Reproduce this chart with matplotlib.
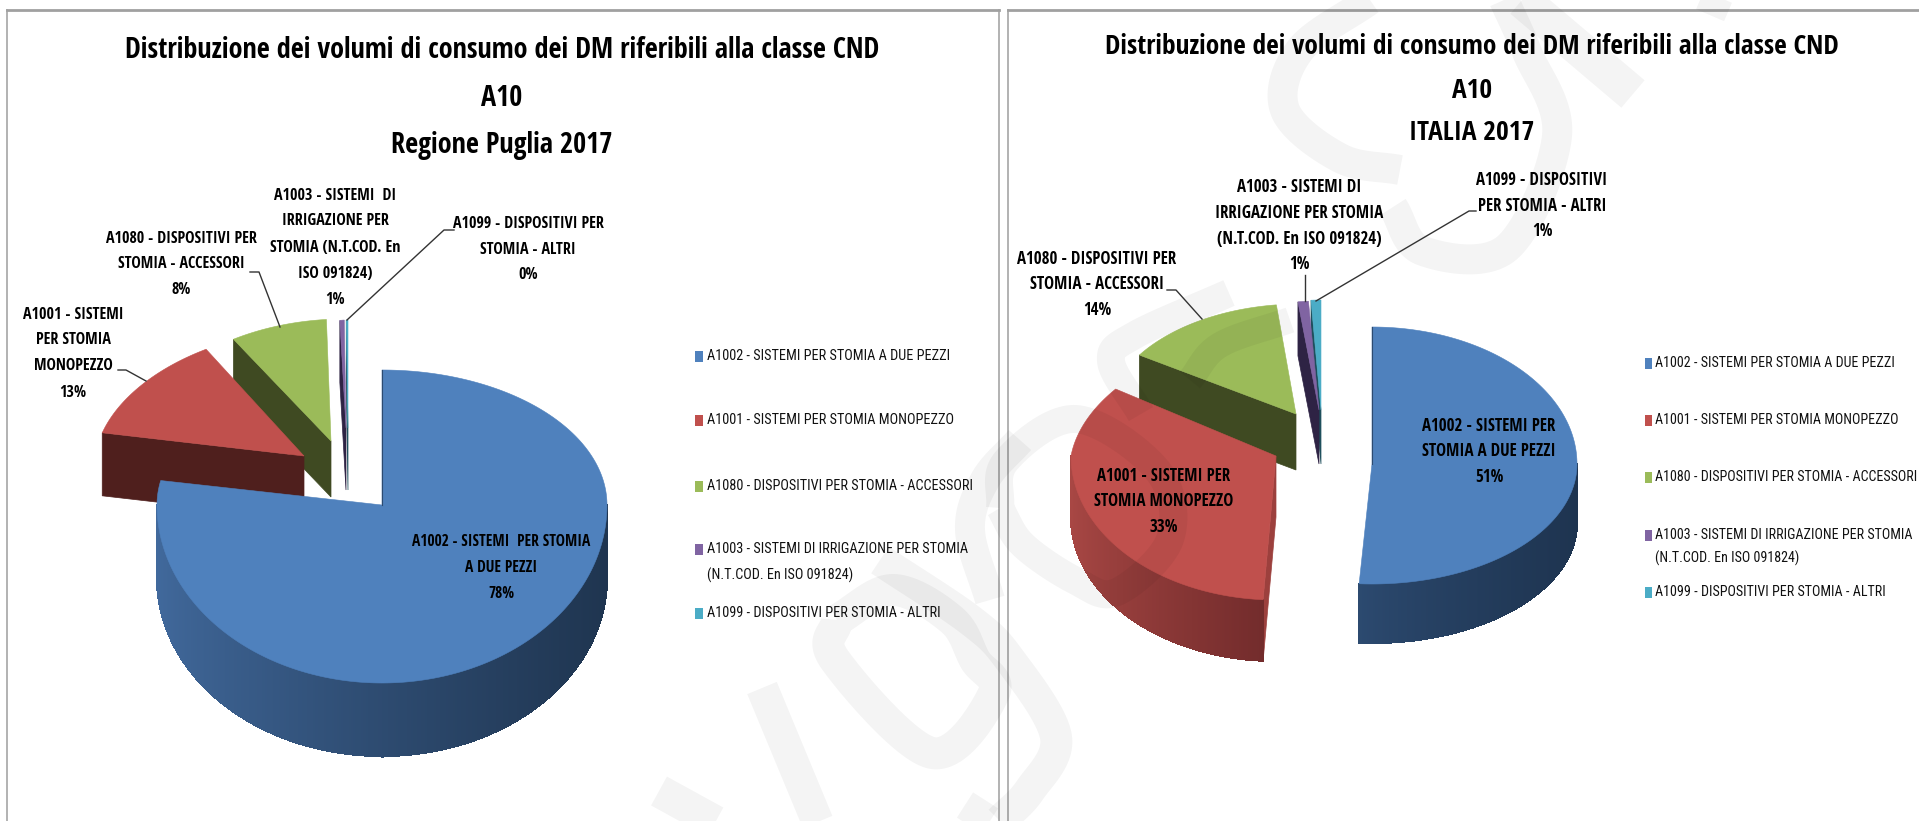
import numpy as np
import matplotlib
matplotlib.use('Agg')
import matplotlib.pyplot as plt
from matplotlib.patches import Polygon, Rectangle
from matplotlib.collections import PolyCollection
from matplotlib.colors import to_rgb

# values (percent)
categories = ['A1002', 'A1001', 'A1080', 'A1003', 'A1099']
values_puglia = [77.9, 12.8, 7.9, 1.0, 0.4]
values_italia = [51.0, 33.0, 14.0, 1.0, 1.0]

title_lines = ['Distribuzione dei volumi di consumo dei DM riferibili alla classe CND', 'A10']
title_puglia = 'Regione Puglia 2017'
title_italia = 'ITALIA 2017'

legend_lines = [
    ['A1002 - SISTEMI PER STOMIA A DUE PEZZI'],
    ['A1001 - SISTEMI PER STOMIA MONOPEZZO'],
    ['A1080 - DISPOSITIVI PER STOMIA - ACCESSORI'],
    ['A1003 - SISTEMI DI IRRIGAZIONE PER STOMIA', '(N.T.COD. En ISO 091824)'],
    ['A1099 - DISPOSITIVI PER STOMIA - ALTRI'],
]

labels_puglia = [
    ['A1002 - SISTEMI  PER STOMIA', 'A DUE PEZZI'],
    ['A1001 - SISTEMI', 'PER STOMIA', 'MONOPEZZO'],
    ['A1080 - DISPOSITIVI PER', 'STOMIA - ACCESSORI'],
    ['A1003 - SISTEMI  DI', 'IRRIGAZIONE PER', 'STOMIA (N.T.COD. En', 'ISO 091824)'],
    ['A1099 - DISPOSITIVI PER', 'STOMIA - ALTRI'],
]
labels_italia = [
    ['A1002 - SISTEMI PER', 'STOMIA A DUE PEZZI'],
    ['A1001 - SISTEMI PER', 'STOMIA MONOPEZZO'],
    ['A1080 - DISPOSITIVI PER', 'STOMIA - ACCESSORI'],
    ['A1003 - SISTEMI DI', 'IRRIGAZIONE PER STOMIA', '(N.T.COD. En ISO 091824)'],
    ['A1099 - DISPOSITIVI', 'PER STOMIA - ALTRI'],
]

top_colors = ['#4f81bd', '#c0504d', '#9bbb59', '#8064a2', '#4bacc6']

# layout per slice: apex x, apex y, rx, ry up, ry down, depth, skew
geom_puglia = [
    (382, 505, 225, 135, 178, 73, 0),
    (304, 456, 209, 128, 128, 63, 0.163),
    (331, 441, 196, 122, 122, 56, 0.104),
    (346, 428, 70, 108, 108, 62, 0),
    (348, 428, 70, 108, 108, 62, 0),
]
geom_italia = [
    (1372, 464, 205, 137, 120, 59, 0),
    (1276, 456, 205, 125, 144, 61, 0.19),
    (1296, 414, 188, 110, 110, 56, 0.036),
    (1319, 410, 168, 109, 109, 54, 0),
    (1321, 410, 159, 110, 110, 54, 0),
]
face_puglia = ['#1f3550', '#4f1f1d', '#3f4a22', '#2e2344', '#1e4f5c']
face_italia = ['#1f3550', '#9c403d', '#3f4a22', '#2e2344', '#1e4f5c']
grad_puglia = [('#41699c', '#1f3550')] * 5
grad_italia = [('#2c4a70', '#1e3450'), ('#a84744', '#732c2c')] + [('#444444', '#222222')] * 3


def project(t, g):
    x0, y0, rx, ry_up, ry_down, depth, skew = g
    t = np.asarray(t, dtype=float)
    c = np.cos(np.radians(t))
    s = np.sin(np.radians(t))
    ys = np.where(c > 0, -ry_up * c, -ry_down * c)
    # slices in the back lean a bit, like the perspective of the original
    xs = rx * s + np.where(ys < 0, skew * ys, 0) * -1.0
    return x0 + xs, y0 + ys


def draw_slice(ax, a, b, g, color, face, grad):
    x0, y0, rx, ry_up, ry_down, depth, skew = g
    ts = np.linspace(a, b, max(int(b - a) * 2, 6))
    xs, ys = project(ts, g)

    # side wall facing the viewer
    if np.sin(np.radians(a)) < 0:
        sx, sy = project(a, g)
        ax.add_patch(Polygon([(x0, y0), (sx, sy), (sx, sy + depth), (x0, y0 + depth)],
                             closed=True, facecolor=face, edgecolor=face, lw=0.5))

    # outer wall with the left to right shading
    lo, hi = max(a, 90), min(b, 270)
    if lo < hi:
        tw = np.linspace(lo, hi, int(hi - lo) * 2 + 2)
        wx, wy = project(tw, g)
        x_min, x_max = wx.min(), wx.max()
        c1, c2 = np.array(to_rgb(grad[0])), np.array(to_rgb(grad[1]))
        polys, cols = [], []
        for i in range(len(tw) - 1):
            polys.append([(wx[i], wy[i]), (wx[i + 1], wy[i + 1]),
                          (wx[i + 1], wy[i + 1] + depth), (wx[i], wy[i] + depth)])
            f = ((wx[i] - x_min) / max(x_max - x_min, 1)) ** 0.8
            cols.append(c1 * (1 - f) + c2 * f)
        ax.add_collection(PolyCollection(polys, facecolors=cols, edgecolors=cols,
                                         linewidths=0.8, antialiaseds=False))

    pts = [(x0, y0)] + list(zip(xs, ys))
    ax.add_patch(Polygon(pts, closed=True, facecolor=color, edgecolor=color, lw=0.4))


def draw_pie(ax, values, geom, faces, grads):
    total = sum(values)
    ends = np.cumsum(values) / total * 360
    starts = np.concatenate([[0], ends[:-1]])
    # back slices first, the big one goes on top
    for i in [4, 3, 2, 1, 0]:
        draw_slice(ax, starts[i], ends[i], geom[i], top_colors[i], faces[i], grads[i])
    # thin dark edge of the big slice
    tx, ty = project(0, geom[0])
    ax.plot([tx, geom[0][0]], [ty, geom[0][1]], color='#1f3550', lw=0.8, alpha=0.7, zorder=2)


def smooth(points, n=24):
    # catmull-rom through a few points, only for the watermark strokes
    p = np.array(points, dtype=float)
    if len(p) < 3:
        return p
    p = np.vstack([2 * p[0] - p[1], p, 2 * p[-1] - p[-2]])
    out = []
    for i in range(1, len(p) - 2):
        for u in np.linspace(0, 1, n, endpoint=False):
            out.append(0.5 * (2 * p[i] + (p[i + 1] - p[i - 1]) * u
                              + (2 * p[i - 1] - 5 * p[i] + 4 * p[i + 1] - p[i + 2]) * u ** 2
                              + (3 * p[i] - p[i - 1] - 3 * p[i + 1] + p[i + 2]) * u ** 3))
    out.append(p[-2])
    return np.array(out)


bold_font = ['Open Sans Condensed', 'Roboto Condensed', 'DejaVu Sans']
plain_font = ['Roboto Condensed', 'DejaVu Sans']

fig = plt.figure(figsize=(19.19, 8.21), dpi=100)
ax = fig.add_axes([0, 0, 1, 1])
ax.set_xlim(0, 1919)
ax.set_ylim(821, 0)
ax.axis('off')

# panel borders
for xs, ys in [([7, 7], [10, 821]), ([999, 999], [10, 821]), ([1008, 1008], [10, 821])]:
    ax.plot(xs, ys, color='#a6a6a6', lw=1.2, zorder=1)
ax.plot([7, 999], [10, 10], color='#a0a0a0', lw=2, zorder=1)
ax.plot([1008, 1919], [10, 10], color='#a0a0a0', lw=2, zorder=1)

draw_pie(ax, values_puglia, geom_puglia, face_puglia, grad_puglia)
draw_pie(ax, values_italia, geom_italia, face_italia, grad_italia)

# watermark, pale strokes crossing the page
strokes = [
    ([(1522, 0), (1633, 94)], 36),
    ([(1700, 0), (1728, 12)], 20),
    ([(1370, 0), (1300, 50), (1285, 110), (1340, 158), (1400, 170)], 30),
    ([(1393, 207), (1423, 251), (1507, 248), (1557, 136), (1527, 52), (1504, 0)], 30),
    ([(1000, 508), (1006, 461), (1076, 419), (1158, 471), (1170, 539), (1117, 592), (1076, 581), (1023, 545), (1000, 508)], 28),
    ([(1229, 293), (1135, 335), (1111, 361), (1141, 414)], 28),
    ([(1290, 320), (1220, 345), (1190, 380)], 26),
    ([(880, 560), (970, 620), (1010, 660), (1056, 737), (1030, 790), (1000, 821)], 32),
    ([(837, 620), (835, 660), (932, 753), (994, 693), (975, 660), (952, 620), (893, 590), (837, 620)], 32),
    ([(1020, 440), (985, 480), (970, 530), (990, 600)], 30),
    ([(762, 688), (823, 835)], 32),
    ([(659, 791), (730, 830)], 33),
    ([(965, 805), (990, 821)], 30),
]
for pts, width in strokes:
    line = smooth(pts)
    ax.plot(line[:, 0], line[:, 1], color='black', alpha=0.045, lw=width * 0.72,
            solid_capstyle='butt', zorder=5)


def multi_text(x, ys, lines, size, family=bold_font, weight='bold', ha='center'):
    for y, s in zip(ys, lines):
        ax.text(x, y, s, fontsize=size, family=family, weight=weight, ha=ha, va='center',
                color='black', zorder=10)


# titles
multi_text(502, [50, 99, 145], title_lines + [title_puglia], 20.3)
multi_text(1472, [47, 90, 132], title_lines + [title_italia], 19.7)


def pie_label(x, ys, lines, value, size=11.5):
    multi_text(x, ys, lines + ['%d%%' % round(value)], size)


pie_label(501, [542, 568, 594], labels_puglia[0], values_puglia[0], 11.2)
pie_label(73, [315, 340, 366, 393], labels_puglia[1], values_puglia[1])
pie_label(181, [239, 264, 290], labels_puglia[2], values_puglia[2])
pie_label(335, [196, 221, 248, 274, 300], labels_puglia[3], values_puglia[3])
pie_label(528, [224, 250, 275], labels_puglia[4], values_puglia[4])

pie_label(1489, [426, 451, 477], labels_italia[0], values_italia[0], 12.2)
pie_label(1164, [476, 501, 527], labels_italia[1], values_italia[1], 12.2)
pie_label(1097, [259, 284, 310], labels_italia[2], values_italia[2], 12.2)
pie_label(1299, [187, 213, 239, 264], labels_italia[3], values_italia[3], 12.2)
pie_label(1542, [180, 206, 231], labels_italia[4], values_italia[4], 12.2)

# leader lines
leaders = [
    [(250, 272), (259, 272), (280, 327)],
    [(118, 370), (126, 370), (146, 381)],
    [(454, 230), (444, 230), (347, 320)],
    [(1476, 211), (1469, 211), (1316, 301)],
    [(1305, 275), (1305, 301)],
    [(1167, 290), (1176, 290), (1202, 319)],
]
for pts in leaders:
    ax.plot([p[0] for p in pts], [p[1] for p in pts], color='#333333', lw=1.0, zorder=9)


def draw_legend(marker_x, marker_w, text_x, ys, size):
    i = 0
    for n, lines in enumerate(legend_lines):
        y = ys[i]
        ax.add_patch(Rectangle((marker_x, y - 5), marker_w, 11, facecolor=top_colors[n], edgecolor='none', zorder=10))
        for s in lines:
            ax.text(text_x, ys[i], s, fontsize=size, family=plain_font, ha='left', va='center', color='#111111', zorder=10)
            i += 1


draw_legend(695, 8, 707, [356, 420, 486, 549, 575, 613], 10.3)
draw_legend(1645, 7, 1655, [363, 420, 477, 535, 558, 592], 10.1)

fig.savefig('out.png', dpi=100)
